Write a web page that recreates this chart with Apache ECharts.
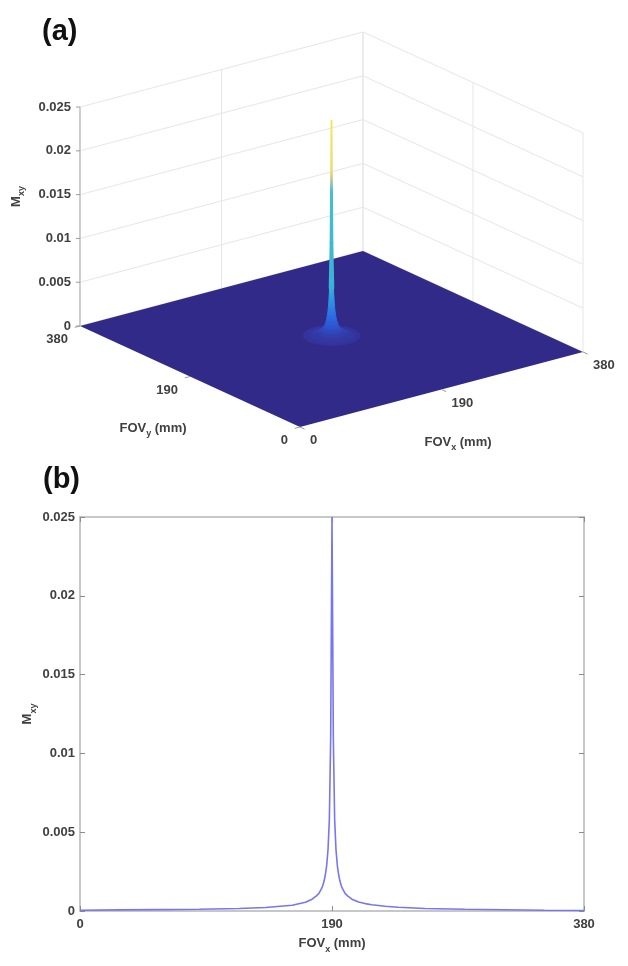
<!DOCTYPE html>
<html><head><meta charset="utf-8">
<script src="https://cdn.jsdelivr.net/npm/echarts@6/dist/echarts.min.js"></script>
<style>html,body{margin:0;padding:0;background:#fff}#c{width:628px;height:966px}</style>
</head><body><div id="c"></div>
<script>
// ---- data ----
const fovX = [0,30,60,90,120,140,160,170,175,178,180,182,183,184,185,186,187,188,189,190,191,192,193,194,195,196,197,198,200,202,205,210,215,220,230,240,260,290,320,350,380];
const mxy  = [0.00005,0.00007,0.00009,0.00011,0.00016,0.00022,0.00036,0.00055,0.00075,0.00095,0.0011,0.0014,0.0016,0.0019,0.0023,0.0029,0.0039,0.0058,0.0110,0.025,0.0110,0.0058,0.0039,0.0029,0.0023,0.0019,0.0016,0.0014,0.0011,0.00095,0.00075,0.00057,0.00047,0.0004,0.0003,0.00024,0.00016,0.00011,0.00008,0.00005,0.00003];
const fovTicks = [0,190,380];
const fovTickLabels = ['0','190','380'];
const mxyTicks = [0,0.005,0.01,0.015,0.02,0.025];
const mxyTickLabels = ['0','0.005','0.01','0.015','0.02','0.025'];
const peakCentre = 190;      // FOV position of the peak (mm), both directions
const skirtRadius = 30;      // radius of the visible skirt in panel (a), mm

// ---- derived ----
const W = fovTicks[fovTicks.length-1];
const zMax = mxyTicks[mxyTicks.length-1];
const lineData = fovX.map((x,i)=>[x, mxy[i]]);
const radial = [];
fovX.forEach((x,i)=>{ const r = x - peakCentre; if (r >= 0 && r <= skirtRadius) radial.push([r, mxy[i]]); });
radial.sort((a,b)=>b[0]-a[0]);

// ---- view (orthographic projection into a hidden unit grid) ----
const VIEW = {u0:0.4365, ux:0.5615, uy:-0.4365, vx:0.1904, vy:0.2563, vz:0.5558};
function proj(x,y,z){ const a=x/W, b=y/W, c=z/zMax; return [VIEW.u0 + a*VIEW.ux + b*VIEW.uy, a*VIEW.vx + b*VIEW.vy + c*VIEW.vz]; }

const cmapStops = [[0,'#312a88'],[0.016,'#34329a'],[0.05,'#2f4ec6'],[0.1,'#2a6be2'],[0.18,'#2f96e0'],[0.24,'#3ab3d6'],[0.68,'#45bfcb'],[0.72,'#a9c7a4'],[0.76,'#e9de6c'],[1.0,'#f5e552']];
function hex2rgb(h){ return [parseInt(h.substr(1,2),16),parseInt(h.substr(3,2),16),parseInt(h.substr(5,2),16)]; }
function cmap(z){
  const f = Math.max(0, Math.min(1, z/zMax));
  for (let k=1;k<cmapStops.length;k++){
    if (f <= cmapStops[k][0]){
      const a = cmapStops[k-1], b = cmapStops[k];
      const t = (f-a[0])/(b[0]-a[0]);
      const ca = hex2rgb(a[1]), cb = hex2rgb(b[1]);
      return 'rgb(' + ca.map((v,j)=>Math.round(v + (cb[j]-v)*t)).join(',') + ')';
    }
  }
  return cmapStops[cmapStops.length-1][1];
}
function hull(pts){
  const p = pts.slice().sort((a,b)=>a[0]-b[0] || a[1]-b[1]);
  const cross=(o,a,b)=>(a[0]-o[0])*(b[1]-o[1])-(a[1]-o[1])*(b[0]-o[0]);
  const lo=[], up=[];
  for (const q of p){ while(lo.length>=2 && cross(lo[lo.length-2],lo[lo.length-1],q)<=0) lo.pop(); lo.push(q); }
  for (let i=p.length-1;i>=0;i--){ const q=p[i]; while(up.length>=2 && cross(up[up.length-2],up[up.length-1],q)<=0) up.pop(); up.push(q); }
  up.pop(); lo.pop(); return lo.concat(up);
}

const FONT = '"Liberation Sans", Arial, sans-serif';
const LBL = '#404040';
function ln(a,b,color,w){ return {type:'line', shape:{x1:a[0],y1:a[1],x2:b[0],y2:b[1]}, style:{stroke:color, lineWidth:w}}; }
function tx(x,y,text,align){ return {type:'text', x:x, y:y, style:{text:text, fill:LBL, font:'bold 13px '+FONT, align:align, verticalAlign:'middle', textAlign:align, textVerticalAlign:'middle'}}; }
function subText(x,y,main,sub,tail,rot){
  return {type:'text', x:x, y:y, rotation:rot||0, style:{text:'{n|'+main+'}{s|'+sub+'}{n|'+tail+'}', align:'center', verticalAlign:'middle', textAlign:'center', textVerticalAlign:'middle',
    rich:{n:{fontSize:13, fontWeight:'bold', fontFamily:FONT, fill:LBL, color:LBL}, s:{fontSize:9, fontWeight:'bold', fontFamily:FONT, fill:LBL, color:LBL, padding:[12,0,0,0]}}}};
}

const chart = echarts.init(document.getElementById('c'), null, {renderer:'canvas'});
const richName = {n:{fontSize:13, fontWeight:'bold', fontFamily:FONT, color:LBL}, s:{fontSize:9, fontWeight:'bold', fontFamily:FONT, color:LBL, padding:[12,0,0,0]}};
const axisGray = '#b5b5b5';
const tickStyle = {show:true, inside:true, length:5, lineStyle:{color:'#8c8c8c'}};

chart.setOption({
  animation:false,
  backgroundColor:'#fff',
  grid:[
    {left:80, top:517, width:504, height:394},
    {left:80, top:33, width:504, height:394}
  ],
  graphic:[
    {type:'text', left:42, top:17, style:{text:'(a)', font:'bold 29px '+FONT, fill:'#111'}},
    {type:'text', left:43, top:465, style:{text:'(b)', font:'bold 29px '+FONT, fill:'#111'}}
  ],
  xAxis:[
    {type:'value', gridIndex:0, min:0, max:W, interval:fovTicks[1]-fovTicks[0], position:'bottom',
     axisLine:{show:true, onZero:false, lineStyle:{color:axisGray, width:1.5}},
     axisTick:tickStyle,
     axisLabel:{color:LBL, fontWeight:'bold', fontSize:13, fontFamily:FONT, margin:7, formatter:(v,i)=>fovTickLabels[i]},
     splitLine:{show:false},
     name:'{n|FOV}{s|x}{n| (mm)}', nameLocation:'middle', nameGap:22, nameMoveOverlap:false, nameTextStyle:{rich:richName}},
    {type:'value', gridIndex:0, min:0, max:W, interval:fovTicks[1]-fovTicks[0], position:'top',
     axisLine:{show:true, onZero:false, lineStyle:{color:axisGray, width:1.5}},
     axisTick:tickStyle, axisLabel:{show:false}, splitLine:{show:false}},
    {type:'value', gridIndex:1, min:0, max:1, show:false}
  ],
  yAxis:[
    {type:'value', gridIndex:0, min:0, max:zMax, interval:mxyTicks[1]-mxyTicks[0], position:'left',
     axisLine:{show:true, onZero:false, lineStyle:{color:axisGray, width:1.5}},
     axisTick:tickStyle,
     axisLabel:{color:LBL, fontWeight:'bold', fontSize:13, fontFamily:FONT, margin:5, formatter:(v,i)=>mxyTickLabels[i]},
     splitLine:{show:false},
     name:'{n|M}{s|xy}', nameLocation:'middle', nameGap:42, nameMoveOverlap:false, nameTextStyle:{rich:richName}},
    {type:'value', gridIndex:0, min:0, max:zMax, interval:mxyTicks[1]-mxyTicks[0], position:'right',
     axisLine:{show:true, onZero:false, lineStyle:{color:axisGray, width:1.5}},
     axisTick:tickStyle, axisLabel:{show:false}, splitLine:{show:false}},
    {type:'value', gridIndex:1, min:0, max:1, show:false}
  ],
  series:[
    {type:'line', xAxisIndex:0, yAxisIndex:0, data:lineData, showSymbol:false, symbol:'none',
     lineStyle:{color:'#7676f4', width:1.6}, z:3},
    {type:'custom', xAxisIndex:2, yAxisIndex:2, data:[[0,0]], z:1, silent:true,
     renderItem:function(params, api){
       const C=(x,y,z)=>api.coord(proj(x,y,z));
       const ch=[], g='#e6e6e6';
       mxyTicks.forEach(z=>{ ch.push(ln(C(0,W,z),C(W,W,z),g,1)); ch.push(ln(C(W,W,z),C(W,0,z),g,1)); });
       fovTicks.forEach(t=>{ ch.push(ln(C(t,W,0),C(t,W,zMax),g,1)); ch.push(ln(C(W,t,0),C(W,t,zMax),g,1)); });
       return {type:'group', children:ch};
     }},
    {type:'custom', xAxisIndex:2, yAxisIndex:2, data:[[0,0]], z:2, silent:true,
     renderItem:function(params, api){
       const C=(x,y,z)=>api.coord(proj(x,y,z));
       const z0 = mxyTicks[0];
       return {type:'polygon', shape:{points:[C(0,0,z0),C(W,0,z0),C(W,W,z0),C(0,W,z0)]}, style:{fill:cmap(z0)}};
     }},
    {type:'custom', xAxisIndex:2, yAxisIndex:2, data:radial, z:3, silent:true,
     renderItem:function(params, api){
       const i = params.dataIndex;
       if (i >= radial.length-1) return null;
       const ro = api.value(0), zo = api.value(1);
       const ri = radial[i+1][0], zi = radial[i+1][1];
       const pts=[];
       for (let k=0;k<40;k++){
         const t=k/40*2*Math.PI;
         pts.push(api.coord(proj(peakCentre+ro*Math.cos(t), peakCentre+ro*Math.sin(t), zo)));
         pts.push(api.coord(proj(peakCentre+ri*Math.cos(t), peakCentre+ri*Math.sin(t), zi)));
       }
       const yo = api.coord(proj(peakCentre,peakCentre,zo))[1], yi = api.coord(proj(peakCentre,peakCentre,zi))[1];
       let fill;
       if (Math.abs(yo-yi) < 1) fill = cmap((zo+zi)/2);
       else {
         const stops=[]; for(let k=0;k<=12;k++){ stops.push({offset:k/12, color:cmap(zo+(zi-zo)*k/12)}); }
         fill = {type:'linear', x:0, y:yo, x2:0, y2:yi, global:true, colorStops:stops};
       }
       const thin = ri < 2;
       return {type:'polygon', shape:{points:hull(pts)}, style:{fill:fill, stroke:fill, lineWidth: thin ? 1.8 : 1}};
     }},
    {type:'custom', xAxisIndex:2, yAxisIndex:2, data:[[0,0]], z:4, silent:true,
     renderItem:function(params, api){
       const C=(x,y,z)=>api.coord(proj(x,y,z));
       const ch=[];
       ch.push(ln(C(0,W,0),C(0,W,zMax),axisGray,1.2));
       mxyTicks.forEach((z,i)=>{ const p=C(0,W,z); ch.push(ln([p[0]-4,p[1]],p,'#9a9a9a',1)); ch.push(tx(p[0]-9,p[1],mxyTickLabels[i],'right')); });
       fovTicks.forEach((x,i)=>{ const p=C(x,0,0), q=C(x,-8,0); ch.push(ln(p,q,'#9a9a9a',1)); ch.push(tx(p[0]+10,p[1]+13.5,fovTickLabels[i],'left')); });
       fovTicks.forEach((y,i)=>{ const p=C(0,y,0), q=C(-7,y,0); ch.push(ln(p,q,'#9a9a9a',1)); ch.push(tx(p[0]-12,p[1]+13.5,fovTickLabels[i],'right')); });
       const mx=C(W/2,0,0), my=C(0,W/2,0), mz=C(0,W,zMax/2);
       ch.push(subText(mx[0]+16.5, mx[1]+52.5, 'FOV','x',' (mm)'));
       ch.push(subText(my[0]-37, my[1]+51.5, 'FOV','y',' (mm)'));
       ch.push(subText(mz[0]-64, mz[1]-20, 'M','xy','', Math.PI/2));
       return {type:'group', children:ch};
     }}
  ]
});
</script></body></html>
